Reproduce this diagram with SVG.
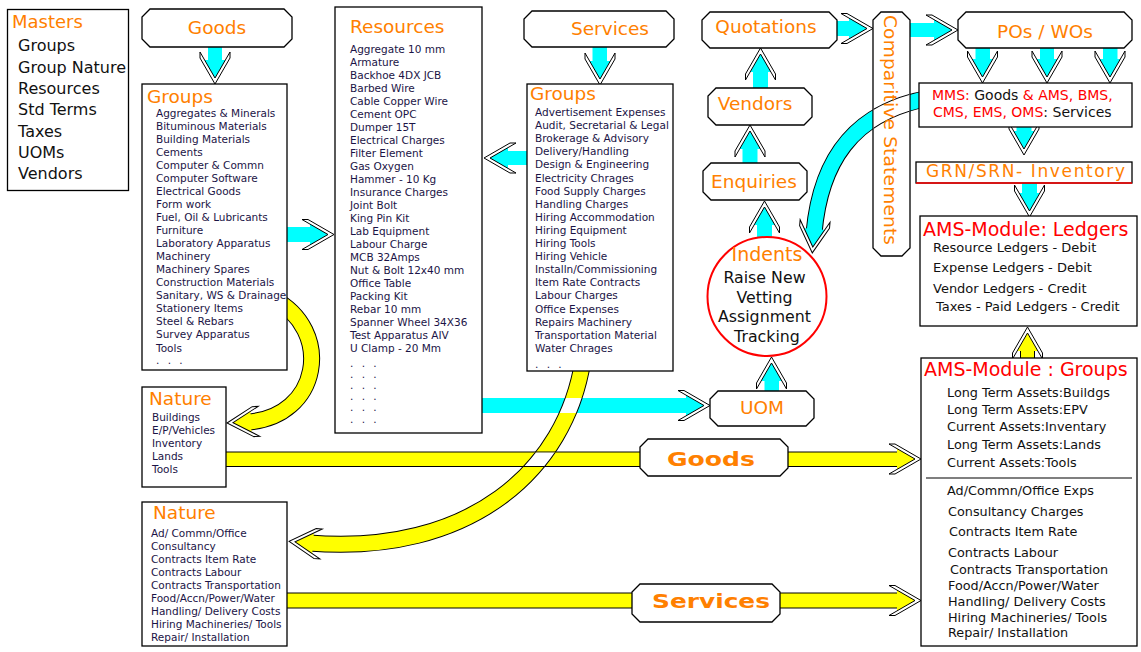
<svg xmlns="http://www.w3.org/2000/svg" xmlns:xlink="http://www.w3.org/1999/xlink" width="1141" height="652" viewBox="0 0 1141 652">
<style>
text{font-family:"DejaVu Sans","Liberation Sans",sans-serif}
.bx{fill:#fff;stroke:#000;stroke-width:1.3}
.h{fill:#FF8000;font-size:18.5px}
.i{fill:#1b1446;font-size:10.5px}
.m{fill:#111;font-size:16px}
.l{fill:#111;font-size:13px}
.g{fill:#111;font-size:12.8px}
.rd{fill:#FF0000}
.cy{fill:#00FFFF}
.yf{fill:#FFFF00}
.yl{stroke:#000;stroke-width:1;fill:none}
.ch{fill:#fff;stroke:#000;stroke-width:1}
.ek{fill:none;stroke:#000;stroke-width:17}
.ec{fill:none;stroke:#00FFFF;stroke-width:15}
.ey{fill:none;stroke:#FFFF00;stroke-width:15}
.ew{fill:none;stroke:#fff;stroke-width:15}
.bl{font-weight:bold;font-size:20px;fill:#FF8000}
</style>
<defs>
<g id="hc"><polygon class="cy" points="-4,0 -24,-12 -24,12"/><polygon class="ch" points="-26,-15 0,0 -26,15 -32,15 -6,0 -32,-15"/></g>
<g id="hy"><polygon class="yf" points="-4,0 -24,-12 -24,12"/><polygon class="ch" points="-26,-15 0,0 -26,15 -32,15 -6,0 -32,-15"/></g>
<path id="cg" d="M 272 298 C 335 330, 320 418, 247 422"/>
<path id="cs" d="M 583 360 C 566 470, 470 556, 309 543"/>
<path id="cm" d="M 930 98 C 850 112, 820 165, 814 233"/>
<clipPath id="clipA"><rect x="530" y="398" width="80" height="15"/></clipPath>
<clipPath id="clipB"><rect x="495" y="452.5" width="90" height="13.5"/></clipPath>
<clipPath id="clipC"><rect x="873.7" y="12.7" width="35.6" height="242.6"/></clipPath>
</defs>
<rect width="1141" height="652" fill="#fff"/>

<g id="connectors">
  <!-- curves -->
  <use xlink:href="#cg" class="ek"/><use xlink:href="#cg" class="ey"/>
  <use xlink:href="#cs" class="ek"/><use xlink:href="#cs" class="ey"/>
  <use xlink:href="#cm" class="ek"/><use xlink:href="#cm" class="ec"/>
  <!-- cyan straight shafts -->
  <rect class="cy" x="208" y="47" width="14" height="16"/>
  <rect class="cy" x="592.5" y="47" width="14.5" height="17"/>
  <rect class="cy" x="287" y="227" width="26" height="15"/>
  <rect class="cy" x="505" y="151" width="22" height="14"/>
  <rect class="cy" x="482" y="398" width="208" height="15"/>
  <rect class="cy" x="764.5" y="378" width="14.5" height="13"/>
  <rect class="cy" x="757" y="222" width="15" height="15"/>
  <rect class="cy" x="742.5" y="146" width="15" height="17"/>
  <rect class="cy" x="753" y="69" width="15" height="19"/>
  <rect class="cy" x="837" y="21" width="16" height="15"/>
  <rect class="cy" x="909" y="23" width="29" height="14"/>
  <rect class="cy" x="975.5" y="48" width="14.5" height="15"/>
  <rect class="cy" x="1040" y="48" width="14" height="15"/>
  <rect class="cy" x="1103" y="48" width="14.5" height="15"/>
  <rect class="cy" x="1016.5" y="127" width="15" height="8"/>
  <rect class="cy" x="1022" y="183" width="15" height="13"/>
  <!-- yellow straight shafts -->
  <rect class="yf" x="226" y="452" width="414" height="14.5"/>
  <rect class="yf" x="788" y="452" width="117" height="14.5"/>
  <path class="yl" d="M226 452H640M226 466.5H640M788 452H905M788 466.5H905"/>
  <rect class="yf" x="287" y="593" width="345" height="15"/>
  <rect class="yf" x="780" y="593" width="125" height="15"/>
  <path class="yl" d="M287 593H632M287 608H632M780 593H905M780 608H905"/>
  <rect class="yf" x="1020.5" y="344" width="14" height="14"/>
  <path class="yl" d="M1020.5 344V358M1034.5 344V358"/>
  <!-- crossings -->
  <g clip-path="url(#clipA)"><use xlink:href="#cs" class="ek"/><use xlink:href="#cs" class="ew"/></g>
  <g clip-path="url(#clipB)"><use xlink:href="#cs" class="ek"/><use xlink:href="#cs" class="ew"/></g>
  <!-- heads -->
  <use xlink:href="#hc" transform="translate(215,84) rotate(90)"/>
  <use xlink:href="#hc" transform="translate(600,85) rotate(90)"/>
  <use xlink:href="#hc" transform="translate(334,234.5)"/>
  <use xlink:href="#hc" transform="translate(484,158) rotate(180)"/>
  <use xlink:href="#hc" transform="translate(710,405.5)"/>
  <use xlink:href="#hc" transform="translate(771.5,357) rotate(-90)"/>
  <use xlink:href="#hc" transform="translate(764.5,201) rotate(-90)"/>
  <use xlink:href="#hc" transform="translate(750,125) rotate(-90)"/>
  <use xlink:href="#hc" transform="translate(760.5,48) rotate(-90)"/>
  <use xlink:href="#hc" transform="translate(873,28.5)"/>
  <use xlink:href="#hc" transform="translate(958,30)"/>
  <use xlink:href="#hc" transform="translate(982.5,83) rotate(90)"/>
  <use xlink:href="#hc" transform="translate(1047,83) rotate(90)"/>
  <use xlink:href="#hc" transform="translate(1110,83) rotate(90)"/>
  <use xlink:href="#hc" transform="translate(1024,155) rotate(90)"/>
  <use xlink:href="#hc" transform="translate(1029.5,217) rotate(90)"/>
  <use xlink:href="#hc" transform="translate(812.3,252.9) rotate(95)"/>
  <use xlink:href="#hy" transform="translate(1027.5,327) rotate(-90)"/>
  <use xlink:href="#hy" transform="translate(921,459)"/>
  <use xlink:href="#hy" transform="translate(921,600.5)"/>
  <use xlink:href="#hy" transform="translate(227,423) rotate(177)"/>
  <use xlink:href="#hy" transform="translate(289.1,541.4) rotate(184.6)"/>
</g>

<g id="masters">
  <rect class="bx" x="7.5" y="9.5" width="121" height="181"/>
  <text class="h" x="12" y="28" style="font-size:18px">Masters</text>
  <text class="m" x="18" y="51">Groups</text>
  <text class="m" x="18" y="73">Group Nature</text>
  <text class="m" x="18" y="94">Resources</text>
  <text class="m" x="18" y="115">Std Terms</text>
  <text class="m" x="18" y="137">Taxes</text>
  <text class="m" x="18" y="158">UOMs</text>
  <text class="m" x="18" y="179">Vendors</text>
</g>

<g id="goods-top">
  <polygon class="bx" points="150,9 284,9 292,17 292,39 284,47 150,47 142,39 142,17"/>
  <text class="h" x="217" y="34" text-anchor="middle">Goods</text>
</g>

<g id="goods-groups">
  <rect class="bx" x="142" y="84" width="145" height="286"/>
  <text class="h" x="147" y="103">Groups</text>
  <text class="i">
    <tspan x="156" y="117">Aggregates &amp; Minerals</tspan>
    <tspan x="156" y="130">Bituminous Materials</tspan>
    <tspan x="156" y="143">Building Materials</tspan>
    <tspan x="156" y="156">Cements</tspan>
    <tspan x="156" y="169">Computer &amp; Commn</tspan>
    <tspan x="156" y="182">Computer Software</tspan>
    <tspan x="156" y="195">Electrical Goods</tspan>
    <tspan x="156" y="208">Form work</tspan>
    <tspan x="156" y="221">Fuel, Oil &amp; Lubricants</tspan>
    <tspan x="156" y="234">Furniture</tspan>
    <tspan x="156" y="247">Laboratory Apparatus</tspan>
    <tspan x="156" y="260">Machinery</tspan>
    <tspan x="156" y="273">Machinery Spares</tspan>
    <tspan x="156" y="286">Construction Materials</tspan>
    <tspan x="156" y="299">Sanitary, WS &amp; Drainage</tspan>
    <tspan x="156" y="312">Stationery Items</tspan>
    <tspan x="156" y="325">Steel &amp; Rebars</tspan>
    <tspan x="156" y="338">Survey Apparatus</tspan>
    <tspan x="156" y="352">Tools</tspan>
  </text>
  <text class="i" x="156" y="364" style="letter-spacing:2.5px">. . .</text>
</g>

<g id="resources">
  <rect class="bx" x="335" y="7" width="147" height="426"/>
  <text class="h" x="350" y="33">Resources</text>
  <text class="i">
    <tspan x="350" y="53">Aggregate 10 mm</tspan>
    <tspan x="350" y="66">Armature</tspan>
    <tspan x="350" y="79">Backhoe 4DX JCB</tspan>
    <tspan x="350" y="92">Barbed Wire</tspan>
    <tspan x="350" y="105">Cable Copper Wire</tspan>
    <tspan x="350" y="118">Cement OPC</tspan>
    <tspan x="350" y="131">Dumper 15T</tspan>
    <tspan x="350" y="144">Electrical Charges</tspan>
    <tspan x="350" y="157">Filter Element</tspan>
    <tspan x="350" y="170">Gas Oxygen</tspan>
    <tspan x="350" y="183">Hammer - 10 Kg</tspan>
    <tspan x="350" y="196">Insurance Charges</tspan>
    <tspan x="350" y="209">Joint Bolt</tspan>
    <tspan x="350" y="222">King Pin Kit</tspan>
    <tspan x="350" y="235">Lab Equipment</tspan>
    <tspan x="350" y="248">Labour Charge</tspan>
    <tspan x="350" y="261">MCB 32Amps</tspan>
    <tspan x="350" y="274">Nut &amp; Bolt 12x40 mm</tspan>
    <tspan x="350" y="287">Office Table</tspan>
    <tspan x="350" y="300">Packing Kit</tspan>
    <tspan x="350" y="313">Rebar 10 mm</tspan>
    <tspan x="350" y="326">Spanner Wheel 34X36</tspan>
    <tspan x="350" y="339">Test Apparatus AIV</tspan>
    <tspan x="350" y="352">U Clamp - 20 Mm</tspan>
  </text>
  <text class="i" style="letter-spacing:2.5px">
    <tspan x="350" y="367">. . .</tspan>
    <tspan x="350" y="378">. . .</tspan>
    <tspan x="350" y="389">. . .</tspan>
    <tspan x="350" y="400">. . .</tspan>
    <tspan x="350" y="411">. . .</tspan>
    <tspan x="350" y="423">. . .</tspan>
  </text>
</g>

<g id="services-top">
  <polygon class="bx" points="532,11 666,11 674,19 674,39 666,47 532,47 524,39 524,19"/>
  <text class="h" x="610" y="35" text-anchor="middle">Services</text>
</g>

<g id="services-groups">
  <rect class="bx" x="527" y="84" width="146" height="287"/>
  <text class="h" x="530" y="100">Groups</text>
  <text class="i">
    <tspan x="535" y="116">Advertisement Expenses</tspan>
    <tspan x="535" y="129.1">Audit, Secretarial &amp; Legal</tspan>
    <tspan x="535" y="142.2">Brokerage &amp; Advisory</tspan>
    <tspan x="535" y="155.3">Delivery/Handling</tspan>
    <tspan x="535" y="168.4">Design &amp; Engineering</tspan>
    <tspan x="535" y="181.5">Electricity Chrages</tspan>
    <tspan x="535" y="194.6">Food Supply Charges</tspan>
    <tspan x="535" y="207.7">Handling Charges</tspan>
    <tspan x="535" y="220.8">Hiring Accommodation</tspan>
    <tspan x="535" y="233.9">Hiring Equipment</tspan>
    <tspan x="535" y="247">Hiring Tools</tspan>
    <tspan x="535" y="260.1">Hiring Vehicle</tspan>
    <tspan x="535" y="273.2">Installn/Commissioning</tspan>
    <tspan x="535" y="286.3">Item Rate Contracts</tspan>
    <tspan x="535" y="299.4">Labour Charges</tspan>
    <tspan x="535" y="312.5">Office Expenses</tspan>
    <tspan x="535" y="325.6">Repairs Machinery</tspan>
    <tspan x="535" y="338.7">Transportation Material</tspan>
    <tspan x="535" y="351.8">Water Chrages</tspan>
  </text>
  <text class="i" x="535" y="368" style="letter-spacing:2.5px">. . .</text>
</g>

<g id="nature-goods">
  <rect class="bx" x="142" y="387" width="84" height="100"/>
  <text class="h" x="149" y="405">Nature</text>
  <text class="i">
    <tspan x="152" y="421">Buildings</tspan>
    <tspan x="152" y="434">E/P/Vehicles</tspan>
    <tspan x="152" y="447">Inventory</tspan>
    <tspan x="152" y="460">Lands</tspan>
    <tspan x="152" y="473">Tools</tspan>
  </text>
</g>

<g id="nature-services">
  <rect class="bx" x="142" y="502" width="145" height="144"/>
  <text class="h" x="153" y="519">Nature</text>
  <text class="i">
    <tspan x="151" y="537">Ad/ Commn/Office</tspan>
    <tspan x="151" y="550">Consultancy</tspan>
    <tspan x="151" y="563">Contracts Item Rate</tspan>
    <tspan x="151" y="576">Contracts Labour</tspan>
    <tspan x="151" y="589">Contracts Transportation</tspan>
    <tspan x="151" y="602">Food/Accn/Power/Water</tspan>
    <tspan x="151" y="615">Handling/ Delivery Costs</tspan>
    <tspan x="151" y="628">Hiring Machineries/ Tools</tspan>
    <tspan x="151" y="641">Repair/ Installation</tspan>
  </text>
</g>

<g id="goods-label">
  <polygon class="bx" points="648,439 780,439 788,447 788,468 780,476 648,476 640,468 640,447"/>
  <text class="bl" x="667" y="466" textLength="88" lengthAdjust="spacingAndGlyphs">Goods</text>
</g>

<g id="services-label">
  <polygon class="bx" points="640,584 772,584 780,592 780,614 772,622 640,622 632,614 632,592"/>
  <text class="bl" x="652" y="608" textLength="118" lengthAdjust="spacingAndGlyphs">Services</text>
</g>

<g id="uom">
  <polygon class="bx" points="718,391 806,391 814,399 814,418 806,426 718,426 710,418 710,399"/>
  <text class="h" x="762" y="414" text-anchor="middle">UOM</text>
</g>

<g id="indents">
  <circle cx="767" cy="296.5" r="59.5" fill="none" stroke="#FF0000" stroke-width="2"/>
  <text class="h" x="767" y="261" text-anchor="middle" style="font-size:19px">Indents</text>
  <text text-anchor="middle" style="font-size:15.8px;fill:#111">
    <tspan x="767" y="283">Raise New</tspan>
    <tspan x="767" y="303">Vetting</tspan>
    <tspan x="767" y="322">Assignment</tspan>
    <tspan x="767" y="342">Tracking</tspan>
  </text>
</g>

<g id="enquiries">
  <polygon class="bx" points="711,163 799,163 807,171 807,192 799,200 711,200 703,192 703,171"/>
  <text class="h" x="754" y="188" text-anchor="middle">Enquiries</text>
</g>

<g id="vendors">
  <polygon class="bx" points="716,88 804,88 812,96 812,117 804,125 716,125 708,117 708,96"/>
  <text class="h" x="755" y="110" text-anchor="middle">Vendors</text>
</g>

<g id="quotations">
  <polygon class="bx" points="710,12 829,12 837,20 837,40 829,48 710,48 702,40 702,20"/>
  <text class="h" x="766" y="33" text-anchor="middle">Quotations</text>
</g>

<g id="comparitive">
  <polygon class="bx" points="881,12 902,12 910,20 910,248 902,256 881,256 873,248 873,20"/>
  <g clip-path="url(#clipC)"><use xlink:href="#cm" class="ek"/><use xlink:href="#cm" class="ew"/></g>
  <text class="h" transform="translate(884,15) rotate(90)" textLength="230">Comparitive Statements</text>
</g>

<g id="pos-wos">
  <polygon class="bx" points="966,12 1124,12 1132,20 1132,40 1124,48 966,48 958,40 958,20"/>
  <text class="h" x="1045" y="38" text-anchor="middle">POs / WOs</text>
</g>

<g id="mms">
  <rect class="bx" x="919" y="83" width="213" height="44"/>
  <text x="932" y="100" style="font-size:14px;fill:#111"><tspan class="rd">MMS:</tspan> Goods <tspan class="rd">&amp; AMS, BMS,</tspan></text>
  <text x="933" y="117" style="font-size:14px;fill:#111"><tspan class="rd">CMS, EMS, OMS</tspan>: Services</text>
</g>

<g id="grn">
  <rect class="bx" x="916" y="162" width="216" height="21"/>
  <line x1="916" y1="183" x2="1132" y2="183" stroke="#FF0000" stroke-width="1.3"/>
  <text class="h" x="926" y="177" style="font-size:17px" textLength="199">GRN/SRN- Inventory</text>
</g>

<g id="ams-ledgers">
  <rect class="bx" x="920" y="216" width="217" height="110"/>
  <text class="rd" x="923" y="236" style="font-size:19px">AMS-Module: Ledgers</text>
  <text class="l" x="933" y="252">Resource Ledgers - Debit</text>
  <text class="l" x="933" y="272">Expense Ledgers - Debit</text>
  <text class="l" x="933" y="293">Vendor Ledgers - Credit</text>
  <text class="l" x="936" y="311">Taxes - Paid Ledgers - Credit</text>
</g>

<g id="ams-groups">
  <rect class="bx" x="921" y="358" width="216" height="288"/>
  <text class="rd" x="924" y="376" style="font-size:19px">AMS-Module : Groups</text>
  <text class="g" x="947" y="397">Long Term Assets:Buildgs</text>
  <text class="g" x="947" y="414">Long Term Assets:EPV</text>
  <text class="g" x="947" y="431">Current Assets:Inventary</text>
  <text class="g" x="947" y="449">Long Term Assets:Lands</text>
  <text class="g" x="947" y="467">Current Assets:Tools</text>
  <line x1="926" y1="478" x2="1132" y2="478" stroke="#000" stroke-width="1.2"/>
  <text class="g" x="947" y="495">Ad/Commn/Office Exps</text>
  <text class="g" x="948" y="516">Consultancy Charges</text>
  <text class="g" x="949" y="536">Contracts Item Rate</text>
  <text class="g" x="948" y="557">Contracts Labour</text>
  <text class="g" x="950" y="574">Contracts Transportation</text>
  <text class="g" x="948" y="590">Food/Accn/Power/Water</text>
  <text class="g" x="948" y="606">Handling/ Delivery Costs</text>
  <text class="g" x="948" y="622">Hiring Machineries/ Tools</text>
  <text class="g" x="948" y="637">Repair/ Installation</text>
</g>
</svg>
